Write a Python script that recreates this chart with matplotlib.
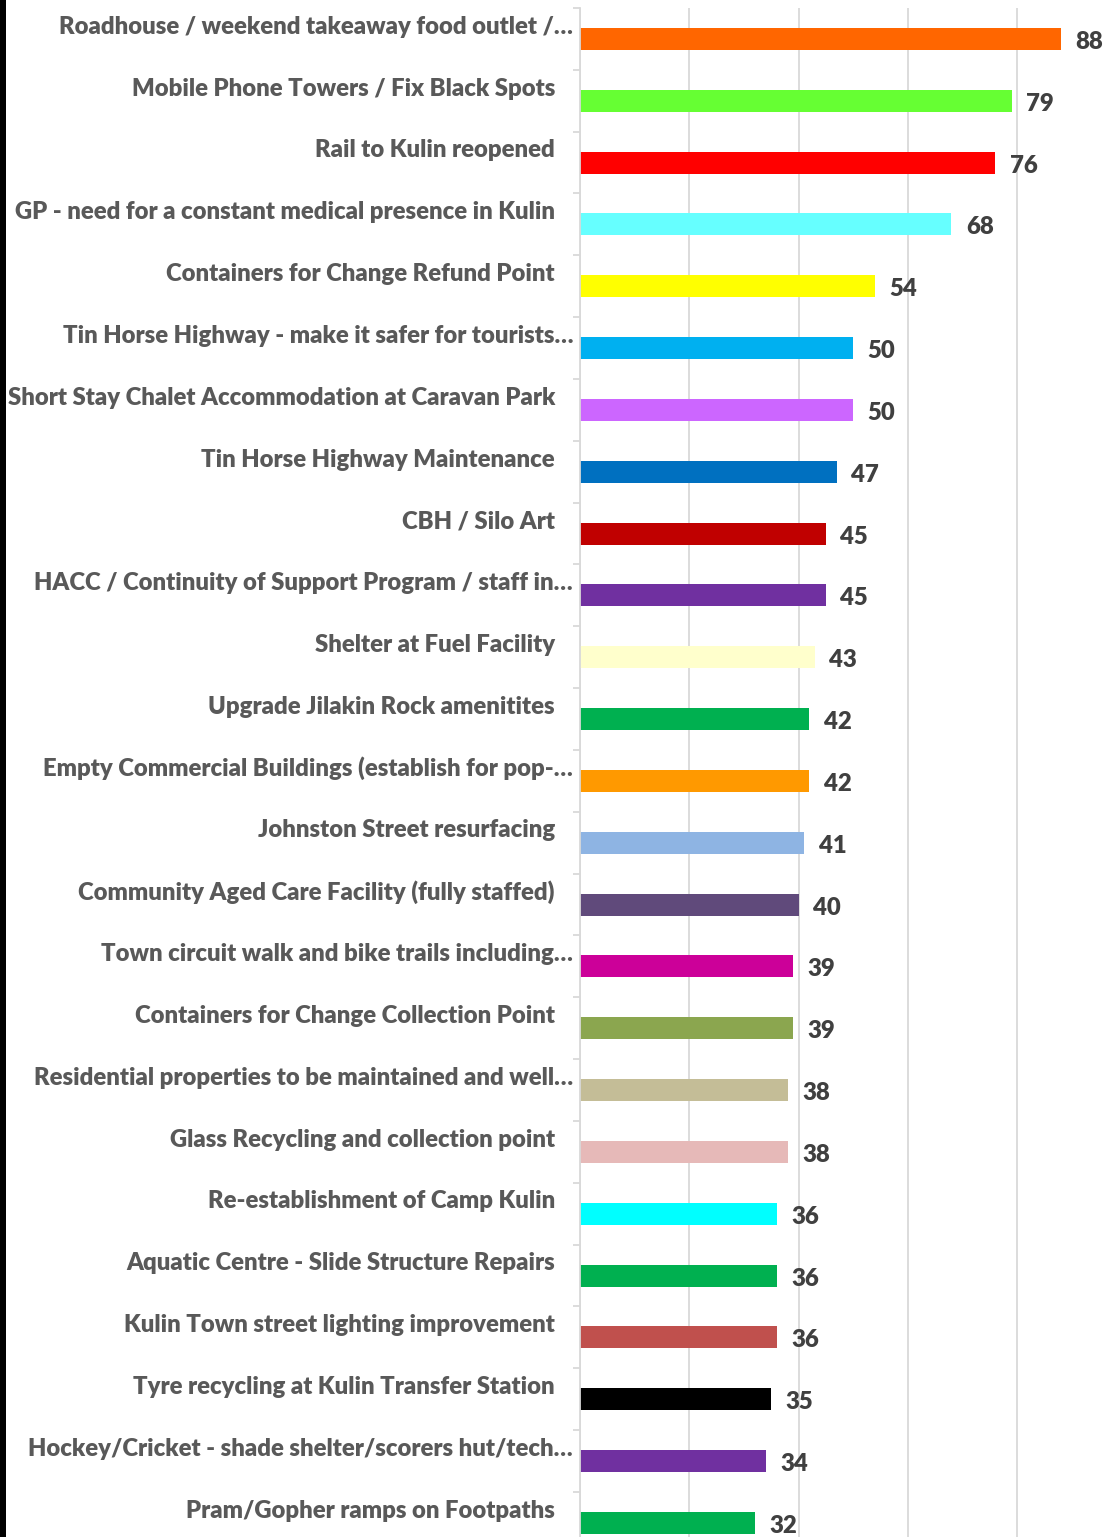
import matplotlib
matplotlib.use("Agg")
import matplotlib.pyplot as plt
from matplotlib.patches import Rectangle

categories = [
    "Roadhouse / weekend takeaway food outlet /…",
    "Mobile Phone Towers / Fix Black Spots",
    "Rail to Kulin reopened",
    "GP - need for a constant medical presence in Kulin",
    "Containers for Change Refund Point",
    "Tin Horse Highway - make it safer for tourists…",
    "Short Stay Chalet Accommodation at Caravan Park",
    "Tin Horse Highway Maintenance",
    "CBH / Silo Art",
    "HACC / Continuity of Support Program / staff in…",
    "Shelter at Fuel Facility",
    "Upgrade Jilakin Rock amenitites",
    "Empty Commercial Buildings (establish for pop-…",
    "Johnston Street resurfacing",
    "Community Aged Care Facility (fully staffed)",
    "Town circuit walk and bike trails including…",
    "Containers for Change Collection Point",
    "Residential properties to be maintained and well…",
    "Glass Recycling and collection point",
    "Re-establishment of Camp Kulin",
    "Aquatic Centre - Slide Structure Repairs",
    "Kulin Town street lighting improvement",
    "Tyre recycling at Kulin Transfer Station",
    "Hockey/Cricket - shade shelter/scorers hut/tech…",
    "Pram/Gopher ramps on Footpaths",
]
values = [88, 79, 76, 68, 54, 50, 50, 47, 45, 45, 43, 42, 42, 41, 40,
          39, 39, 38, 38, 36, 36, 36, 35, 34, 32]
colors = ["#FF6600", "#66FF33", "#FF0000", "#66FFFF", "#FFFF00", "#00B0F0",
          "#CC66FF", "#0070C0", "#C00000", "#7030A0", "#FFFFCC", "#00B050",
          "#FF9900", "#8EB4E3", "#604A7B", "#CC0099", "#8BA64F", "#C4BD97",
          "#E6B9B8", "#00FFFF", "#00B050", "#C0504D", "#000000", "#7030A0",
          "#00B050"]
x_ticks = [0, 20, 40, 60, 80, 100]

W, H = 1108, 1537
fig = plt.figure(figsize=(W / 100, H / 100), dpi=100)
fig.patch.set_facecolor("white")

band = 61.83
top_px = 8
n = len(categories)
left_px = 580
px_per_unit = 5.4625
ax = fig.add_axes([left_px / W, 1 - (top_px + n * band) / H,
                   100 * px_per_unit / W, n * band / H])

ypos = list(range(n))
ax.barh(ypos, values, height=22 / band, color=colors, zorder=3)
ax.set_ylim(n - 0.5, -0.5)
ax.set_xlim(0, 100)

grid_c = "#D9D9D9"
ax.set_xticks(x_ticks)
ax.xaxis.grid(True, color=grid_c, linewidth=1.3, zorder=0)
ax.tick_params(axis="x", length=0, labelbottom=False)
for s in ["top", "right", "bottom"]:
    ax.spines[s].set_visible(False)
ax.spines["left"].set_color(grid_c)
ax.spines["left"].set_linewidth(1.3)
ax.spines["left"].set_zorder(4)

ax.set_yticks([i - 0.5 for i in range(n + 1)])
ax.set_yticklabels([])
ax.tick_params(axis="y", length=5.2, width=1.3, color=grid_c)

font = "Lato"
weight = "heavy"
label_c = "#595959"
value_c = "#404040"

# fit font size to reference label width
ref_text = "Short Stay Chalet Accommodation at Caravan Park"
target_w = 547
renderer = fig.canvas.get_renderer()
t = fig.text(0, 0, ref_text, fontsize=16, fontweight=weight, family=font)
w16 = t.get_window_extent(renderer).width
t.remove()
fs = 16 * target_w / w16

for i, (cat, v) in enumerate(zip(categories, values)):
    dx = -5 if cat.endswith("…") else -18
    ax.annotate(cat, xy=(0, i), xycoords=("axes fraction", "data"),
                xytext=(dx, 8.8), textcoords="offset points",
                ha="right", va="center", fontsize=fs, fontweight=weight,
                color=label_c, family=font, annotation_clip=False)
    ax.annotate(str(v), xy=(v, i), xycoords="data",
                xytext=(10.5, -2.2), textcoords="offset points",
                ha="left", va="center", fontsize=fs, fontweight=weight,
                color=value_c, family=font, annotation_clip=False)

fig.add_artist(Rectangle((0, 0), 6 / W, 1, transform=fig.transFigure,
                         facecolor="black", edgecolor="none"))

fig.savefig("out.png", dpi=100)
